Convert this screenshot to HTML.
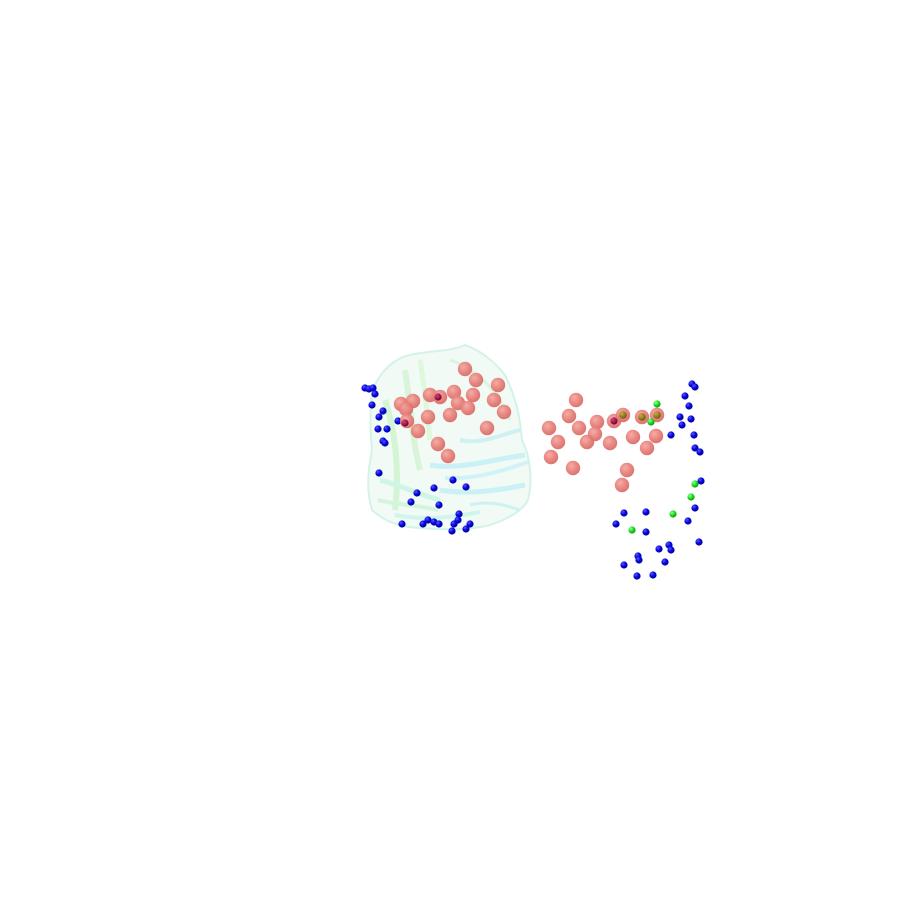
<!DOCTYPE html>
<html><head><meta charset="utf-8"><style>
html,body{margin:0;padding:0;background:#fff;}
svg{display:block;}
</style></head>
<body>
<svg id="scene" width="900" height="900" viewBox="0 0 900 900" xmlns="http://www.w3.org/2000/svg">
<defs>
<radialGradient id="gRed" cx="0.38" cy="0.35" r="0.7"><stop offset="0" stop-color="#f4a5a0"/><stop offset="0.5" stop-color="#e8807a"/><stop offset="1" stop-color="#d5655f"/></radialGradient>
<radialGradient id="gBlue" cx="0.35" cy="0.32" r="0.7"><stop offset="0" stop-color="#5a5aff"/><stop offset="0.5" stop-color="#0808e0"/><stop offset="1" stop-color="#00009a"/></radialGradient>
<radialGradient id="gGreen" cx="0.35" cy="0.32" r="0.7"><stop offset="0" stop-color="#9cff9c"/><stop offset="0.5" stop-color="#22e022"/><stop offset="1" stop-color="#0a9a0a"/></radialGradient>
<radialGradient id="gMag" cx="0.35" cy="0.32" r="0.7"><stop offset="0" stop-color="#d04080"/><stop offset="1" stop-color="#700030"/></radialGradient>
<radialGradient id="gOlive" cx="0.35" cy="0.32" r="0.7"><stop offset="0" stop-color="#c8b040"/><stop offset="1" stop-color="#6a5a10"/></radialGradient>
</defs>
<g id="protein" opacity="0.6">
<path d="M372,392 C380,370 395,358 410,355 C430,350 450,352 465,345 C480,350 495,362 505,375 C515,395 520,415 522,440 C530,455 533,480 528,500 C522,512 505,520 490,525 C470,530 445,530 420,528 C400,527 385,522 372,510 C366,490 368,470 372,450 C370,430 370,410 372,392 Z" fill="#e8f8f0" stroke="#b9ecd8" stroke-width="2"/>
<path d="M385,400 C395,430 400,470 395,510" fill="none" stroke="#b8f0b8" stroke-width="6"/>
<path d="M405,370 C410,400 412,440 420,470" fill="none" stroke="#c0f0c0" stroke-width="6"/>
<path d="M420,360 C425,390 428,420 430,440" fill="none" stroke="#c8f4c8" stroke-width="5"/>
<path d="M430,465 C460,470 490,460 525,455" fill="none" stroke="#a8e8f0" stroke-width="5"/>
<path d="M440,490 C470,495 500,490 525,485" fill="none" stroke="#a8e8f0" stroke-width="5"/>
<path d="M445,478 C475,480 505,470 528,462" fill="none" stroke="#b4ecf2" stroke-width="4"/>
<path d="M380,480 C400,485 420,495 440,500" fill="none" stroke="#b0f0d8" stroke-width="5"/>
<path d="M378,500 C398,505 418,505 438,510" fill="none" stroke="#b8f0c8" stroke-width="4"/>
<path d="M450,360 C480,370 500,395 510,420" fill="none" stroke="#c0f0d0" stroke-width="3"/>
<path d="M460,440 C480,445 500,435 520,430" fill="none" stroke="#b0e8e8" stroke-width="4"/>
<path d="M395,515 C420,520 450,518 480,512" fill="none" stroke="#b0f0e0" stroke-width="4"/>
<path d="M470,505 C490,500 505,505 520,510" fill="none" stroke="#b0e8e8" stroke-width="3"/>
</g>
<g id="spheres"></g>
</svg>
<script>
const redX = [465,476,498,401,413,406,430,440,454,473,458,468,494,504,428,450,407,418,487,438,448,
  576,569,549,579,597,558,595,587,610,633,656,647,551,573,627,622,614,623,642,657];
const redY = [369,380,385,404,401,409,395,397,392,395,403,408,400,412,417,415,421,431,428,444,456,
  400,416,428,428,422,442,434,442,443,437,436,448,457,468,470,485,421,415,417,415];
const blueX = [365,369,373,375,372,383,379,398,378,387,383,385,379,434,453,466,417,411,439,459,458,470,454,452,466,402,423,428,434,439,
  692,695,685,689,680,691,682,671,694,695,700,701,695,688,624,646,616,646,699,659,669,671,638,639,665,624,637,653];
const blueY = [388,389,388,394,405,411,417,421,429,429,441,443,473,488,480,487,493,502,505,514,520,524,524,531,529,524,524,520,522,524,
  384,387,396,406,417,419,425,435,435,448,452,481,508,521,513,512,524,532,542,549,545,550,556,560,562,565,576,575];
const greenX = [657,695,691,673,632,651];
const greenY = [404,484,497,514,530,422];
const magX = [438,405,614];
const magY = [397,423,421];
const oliveX = [623,642,657];
const oliveY = [415,417,415];

const svgNS = 'http://www.w3.org/2000/svg';
const g = document.getElementById('spheres');
function sphere(x, y, r, fill, op) {
  const c = document.createElementNS(svgNS, 'circle');
  c.setAttribute('cx', x); c.setAttribute('cy', y); c.setAttribute('r', r);
  c.setAttribute('fill', fill);
  if (op) c.setAttribute('opacity', op);
  g.appendChild(c);
  return c;
}
for (let i = 0; i < blueX.length; i++) {
  const c = sphere(blueX[i], blueY[i], 3.6, 'url(#gBlue)');
  
  
}
for (let i = 0; i < redX.length; i++) {
  const c = sphere(redX[i], redY[i], 7.2, 'url(#gRed)', 0.92);
  
  
}
for (let i = 0; i < magX.length; i++) {
  const c = sphere(magX[i], magY[i], 3.6, 'url(#gMag)');
  
  
}
for (let i = 0; i < oliveX.length; i++) {
  const c = sphere(oliveX[i], oliveY[i], 3.8, 'url(#gOlive)');
  
  
}
for (let i = 0; i < greenX.length; i++) {
  const c = sphere(greenX[i], greenY[i], 3.6, 'url(#gGreen)');
  
  
}
</script>
</body></html>
